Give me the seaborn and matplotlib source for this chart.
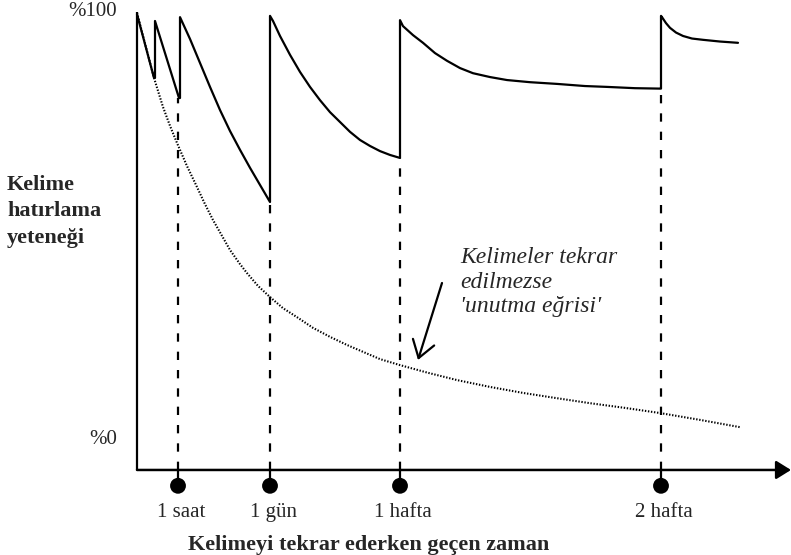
import matplotlib
matplotlib.use("Agg")
import matplotlib.pyplot as plt
import pandas as pd
import seaborn as sns

# ---------------- data ----------------
# time axis in arbitrary units, retention in percent
review_x = [0, 17, 18, 18, 42, 43, 43,
            53, 63, 73, 83, 93, 103, 113, 123, 133,
            133, 136,
            143, 153, 163, 173, 183, 193, 203, 213, 223, 233, 243, 253, 263,
            263, 266,
            276, 286, 298, 310, 323, 336, 353, 370, 393, 420, 448, 470, 498, 523,
            524, 524,
            525, 529, 533, 539, 546, 555, 566, 583, 601]
review_y = [99.5, 84.6, 84.6, 97.9, 79.9, 79.9, 98.8,
            93.7, 88.1, 82.5, 77.1, 72.2, 67.8, 63.6, 59.6, 55.6,
            99.1, 97.9,
            94.4, 90.0, 86.0, 82.5, 79.4, 76.6, 74.3, 72.0, 70.1, 68.7, 67.5,
            66.6, 65.9,
            98.1, 96.7,
            94.6, 92.8, 90.4, 88.6, 86.9, 85.7, 84.8, 84.1, 83.6, 83.2, 82.7,
            82.5, 82.2, 82.1,
            82.1, 99.1,
            98.8, 97.4, 96.3, 95.2, 94.4, 93.8, 93.5, 93.1, 92.8]

forget_x = [0, 17, 26, 33, 40, 50, 60, 68, 76, 85, 93, 103, 110, 121, 133,
            146, 160, 176, 193, 210, 226, 243, 263, 291, 320, 353, 386, 419,
            453, 488, 523, 563, 603]
forget_y = [99.8, 84.6, 77.8, 73.4, 69.4, 64.0, 59.1, 55.1, 51.4, 47.7, 44.4,
            41.1, 39.0, 36.0, 33.4, 30.8, 28.7, 26.2, 24.1, 22.2, 20.6, 18.9,
            17.5, 15.7, 14.0, 12.4, 11.0, 9.8, 8.6, 7.5, 6.3, 4.7, 3.0]

review_times = [41, 133, 263, 524]
review_troughs = [79.9, 55.6, 65.9, 82.1]
tick_labels = ["1 saat", "1 gün", "1 hafta", "2 hafta"]

y_tick_values = [100, 0]
y_tick_labels = ["%100", "%0"]

ylabel_lines = ["Kelime", "hatırlama", "yeteneği"]
xlabel = "Kelimeyi tekrar ederken geçen zaman"
note_lines = ["Kelimeler tekrar", "edilmezse", "'unutma eğrisi'"]

# ---------------- style ----------------
sns.set_style("white")
plt.rcParams["font.family"] = ["Liberation Serif", "DejaVu Serif"]
plt.rcParams["lines.scale_dashes"] = False

PX = 4.28  # pixels per percent unit
AXIS_Y = -7.0
DOT_Y = -10.7

fig = plt.figure(figsize=(7.91, 5.55), dpi=100)
ax = fig.add_axes([0, 0, 1, 1])
ax.set_xlim(-137, 654)
ax.set_ylim((440 - 555) / PX, 100 + 12 / PX)
ax.axis("off")

df_review = pd.DataFrame({"t": review_x, "r": review_y})
df_forget = pd.DataFrame({"t": forget_x, "r": forget_y})

# forgetting curve (dotted)
sns.lineplot(data=df_forget, x="t", y="r", sort=False, estimator=None,
             color="black", lw=1.5, linestyle=(0, (1.0, 1.2)), ax=ax)

# dashed review markers
ax.vlines(review_times, AXIS_Y, review_troughs, colors="black",
          linestyles=[(0, (6.0, 7.2))], lw=1.6)
ax.vlines(review_times, DOT_Y, AXIS_Y, colors="black", lw=1.6)

# retention curve with reviews
sns.lineplot(data=df_review, x="t", y="r", sort=False, estimator=None,
             color="black", lw=1.6, ax=ax)

# axes
ax.plot([0, 0], [AXIS_Y, 100], color="black", lw=1.6, solid_capstyle="butt")
ax.annotate("", xy=(654, AXIS_Y), xytext=(0, AXIS_Y),
            arrowprops=dict(arrowstyle="-|>,head_length=0.45,head_width=0.28",
                            mutation_scale=20, color="black", lw=1.8,
                            shrinkA=0, shrinkB=0))

# dots on time axis
sns.scatterplot(x=review_times, y=[DOT_Y] * len(review_times), s=130,
                color="black", edgecolor="none", ax=ax, zorder=5)

# tick labels
for t, lab in zip(review_times, tick_labels):
    ax.text(t + 3, (440 - 517) / PX, lab, ha="center", va="baseline",
            fontsize=15)

for v, lab in zip(y_tick_values, y_tick_labels):
    ax.text(-20, v, lab, ha="right", va="center", fontsize=15)

# axis titles
for i, line in enumerate(ylabel_lines):
    ax.text(-130, (440 - (190 + 26.5 * i)) / PX, line, ha="left",
            va="baseline", fontsize=16, fontweight="bold")

ax.text(51, (440 - 550) / PX, xlabel, ha="left", va="baseline",
        fontsize=16, fontweight="bold")

# annotation
for i, line in enumerate(note_lines):
    ax.text(323, (440 - (263 + 24.5 * i)) / PX, line, ha="left",
            va="baseline", fontsize=17, fontstyle="italic")

ax.annotate("", xy=(281, (440 - 360) / PX), xytext=(305, (440 - 283) / PX),
            arrowprops=dict(arrowstyle="->,head_length=0.6,head_width=0.4",
                            mutation_scale=20, color="black", lw=1.6,
                            shrinkA=0, shrinkB=0))

fig.savefig("out.png", dpi=100)
